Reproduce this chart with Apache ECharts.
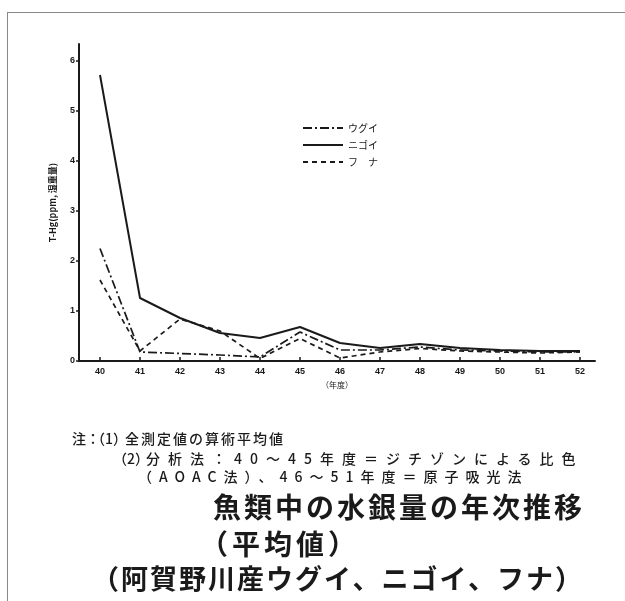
<!DOCTYPE html>
<html>
<head>
<meta charset="utf-8">
<script src="https://cdn.jsdelivr.net/npm/echarts@6/dist/echarts.min.js"></script>
<style>
body{margin:0;background:#fff;}
.wrap{position:relative;width:625px;height:601px;overflow:hidden;background:#fff;font-family:"Noto Sans CJK JP",sans-serif;color:#1a1a1a;}
.frame{position:absolute;left:7px;top:12px;right:-2px;bottom:-2px;border-top:1px solid #888;border-left:1px solid #888;}
#chart{position:absolute;left:0;top:0;width:625px;height:601px;}
.t{position:absolute;white-space:pre;line-height:1;}
.note{font-size:14px;font-weight:500;}
.ttl{font-size:28px;font-weight:bold;}
</style>
</head>
<body>
<div class="wrap">
    <div class="frame"></div>
    <div id="chart"></div>
    <!-- notes and caption under the chart -->
    <div class="t note" style="left:72px;top:431px;">注：</div>
    <div class="t note" style="left:91px;top:431px;">（1）</div>
    <div class="t note" style="left:125px;top:431px;letter-spacing:2px;">全測定値の算術平均値</div>
    <div class="t note" style="left:113px;top:451px;">（2）</div>
    <div class="t note" style="left:146px;top:451px;letter-spacing:8px;">分析法：40～45年度＝ジチゾンによる比色</div>
    <div class="t note" style="left:138px;top:469px;letter-spacing:7px;">（AOAC法）、46～51年度＝原子吸光法</div>
    <div class="t ttl" style="left:213px;top:492px;letter-spacing:3px;">魚類中の水銀量の年次推移</div>
    <div class="t ttl" style="left:200px;top:529px;letter-spacing:4px;">（平均値）</div>
    <div class="t ttl" style="left:92px;top:564px;font-size:27px;letter-spacing:2px;">（阿賀野川産ウグイ、ニゴイ、フナ）</div>
</div>
<script>
// 年度 (昭和)
const years = [40, 41, 42, 43, 44, 45, 46, 47, 48, 49, 50, 51, 52]
const yTicks = [0, 1, 2, 3, 4, 5, 6]
// T-Hg (ppm, 湿重量)
const ugui  = [2.25, 0.18, 0.15, 0.12, 0.08, 0.58, 0.22, 0.22, 0.28, 0.22, 0.20, 0.18, 0.18]
const nigoi = [5.72, 1.26, 0.86, 0.56, 0.46, 0.68, 0.36, 0.26, 0.34, 0.26, 0.22, 0.20, 0.20]
const funa  = [1.62, 0.20, 0.84, 0.60, 0.05, 0.45, 0.06, 0.18, 0.25, 0.20, 0.18, 0.16, 0.18]

const ink = '#1a1a1a'
const pairs = vals => years.map((y, i) => [y, vals[i]])

const chart = echarts.init(document.getElementById('chart'))
chart.setOption({
    animation: false,
    color: [ink, ink, ink],
    textStyle: { fontFamily: '"Noto Sans CJK JP", sans-serif' },
    grid: { left: 79, right: 30, top: 44, bottom: 240 },
    legend: {
        orient: 'vertical',
        left: 297,
        top: 118,
        itemWidth: 40,
        itemHeight: 12,
        itemGap: 7,
        itemStyle: { color: 'rgba(0,0,0,0)', borderWidth: 0 },
        textStyle: { fontSize: 10, color: ink },
        data: ['ウグイ', 'ニゴイ', 'フ　ナ']
    },
    xAxis: {
        type: 'value',
        min: 39.475,
        max: 52.375,
        name: '（年度）',
        nameLocation: 'middle',
        nameGap: 20,
        nameTextStyle: { fontSize: 8, color: ink },
        axisLine: { lineStyle: { color: ink, width: 2 } },
        axisTick: { inside: true, length: 4, customValues: years, lineStyle: { color: ink, width: 1.5 } },
        axisLabel: { customValues: years, fontSize: 9, fontWeight: 'bold', color: ink, margin: 6, fontFamily: 'Liberation Sans' },
        splitLine: { show: false }
    },
    yAxis: {
        type: 'value',
        min: 0,
        max: 6.34,
        name: 'T-Hg(ppm, 湿重量)',
        nameLocation: 'middle',
        nameRotate: 90,
        nameGap: 22,
        nameTextStyle: { fontSize: 9, color: ink, fontWeight: 'bold' },
        axisLine: { show: true, lineStyle: { color: ink, width: 2 } },
        axisTick: { show: true, length: 3, customValues: yTicks, lineStyle: { color: ink, width: 1.5 } },
        axisLabel: { customValues: yTicks, fontSize: 9, fontWeight: 'bold', color: ink, margin: 4, fontFamily: 'Liberation Sans' },
        splitLine: { show: false }
    },
    series: [
        {
            name: 'ウグイ',
            type: 'line',
            symbol: 'none',
            lineStyle: { color: ink, width: 1.7, type: [9, 3, 2, 3] },
            data: pairs(ugui)
        },
        {
            name: 'ニゴイ',
            type: 'line',
            symbol: 'none',
            lineStyle: { color: ink, width: 2 },
            data: pairs(nigoi)
        },
        {
            name: 'フ　ナ',
            type: 'line',
            symbol: 'none',
            lineStyle: { color: ink, width: 1.7, type: [5, 4] },
            data: pairs(funa)
        }
    ]
})
</script>
</body>
</html>
